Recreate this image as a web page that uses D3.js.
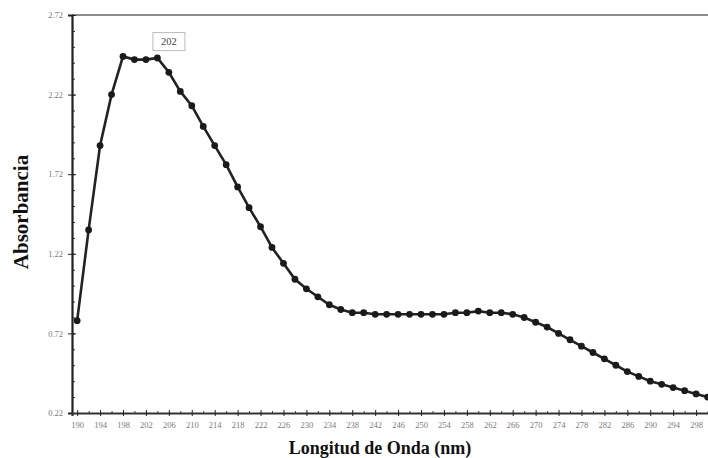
<!DOCTYPE html>
<html>
<head>
<meta charset="utf-8">
<script src="https://cdn.jsdelivr.net/npm/d3@7"></script>
<style>
  body { margin: 0; background: #fff; }
  svg { display: block; }
</style>
</head>
<body>
<div id="chart"></div>
<script>
const wavelength = [190, 192, 194, 196, 198, 200, 202, 204, 206, 208,
    210, 212, 214, 216, 218, 220, 222, 224, 226, 228,
    230, 232, 234, 236, 238, 240, 242, 244, 246, 248,
    250, 252, 254, 256, 258, 260, 262, 264, 266, 268,
    270, 272, 274, 276, 278, 280, 282, 284, 286, 288,
    290, 292, 294, 296, 298, 300];
const absorbance = [0.80, 1.37, 1.90, 2.22, 2.46, 2.44, 2.44, 2.45, 2.36, 2.24,
    2.15, 2.02, 1.90, 1.78, 1.64, 1.51, 1.39, 1.26, 1.16, 1.06,
    1.00, 0.95, 0.90, 0.87, 0.85, 0.85, 0.84, 0.84, 0.84, 0.84,
    0.84, 0.84, 0.84, 0.85, 0.85, 0.86, 0.85, 0.85, 0.84, 0.82,
    0.79, 0.76, 0.72, 0.68, 0.64, 0.60, 0.56, 0.52, 0.48, 0.45,
    0.42, 0.40, 0.38, 0.36, 0.34, 0.32];
const yTicks = [0.22, 0.72, 1.22, 1.72, 2.22, 2.72];
const xTickLabels = [190, 194, 198, 202, 206, 210, 214, 218, 222, 226,
    230, 234, 238, 242, 246, 250, 254, 258, 262, 266,
    270, 274, 278, 282, 286, 290, 294, 298];
const peakLabel = "202";
const peakAt = 202;

const W = 708, H = 458;
const svg = d3.select('#chart').append('svg')
    .attr('width', W)
    .attr('height', H);

const x = d3.scaleLinear().domain([189.1, 301.3]).range([72, 715]);
const y = d3.scaleLinear().domain([0.22, 2.72]).range([413, 15]);
const serif = '"Liberation Serif", "DejaVu Serif", serif';

// top frame
svg.append('line')
    .attr('x1', 72).attr('x2', W)
    .attr('y1', y(2.72)).attr('y2', y(2.72))
    .attr('stroke', '#666').attr('stroke-width', 1.6);

// y axis
const yMinor = d3.range(0.22, 2.7201, 0.1);
const yAxisMinor = d3.axisRight(y).tickValues(yMinor).tickSize(3).tickFormat('');
svg.append('g').attr('transform', 'translate(72,0)').call(yAxisMinor)
    .call(g => g.select('.domain').remove())
    .selectAll('line').attr('stroke', '#333');
const yAxis = d3.axisLeft(y).tickValues(yTicks).tickSize(4).tickPadding(5)
    .tickFormat(d3.format('.2f'));
const gy = svg.append('g').attr('transform', 'translate(72,0)').call(yAxis);
gy.select('.domain').attr('stroke', '#222').attr('stroke-width', 2.2);
gy.selectAll('.tick line').attr('stroke', '#222').attr('x2', 4).attr('x1', -4);
gy.selectAll('.tick text')
    .attr('fill', '#7a7a7a')
    .style('font-family', serif)
    .style('font-size', '8.5px');

// x axis
const xMinor = d3.range(192, 301, 4);
const xAxisMinor = d3.axisTop(x).tickValues(xMinor).tickSize(2).tickFormat('');
svg.append('g').attr('transform', 'translate(0,413)').call(xAxisMinor)
    .call(g => g.select('.domain').remove())
    .selectAll('line').attr('stroke', '#444');
const xAxis = d3.axisBottom(x).tickValues(xTickLabels).tickSize(3).tickPadding(6);
const gx = svg.append('g').attr('transform', 'translate(0,413)').call(xAxis);
gx.select('.domain').attr('stroke', '#333').attr('stroke-width', 2.2);
gx.selectAll('.tick line').attr('stroke', '#222').attr('y1', -3).attr('y2', 3);
gx.selectAll('.tick text')
    .attr('fill', '#7a7a7a')
    .style('font-family', serif)
    .style('font-size', '8.5px');

// line + markers
const pts = wavelength.map((w, i) => ({ w: w, a: absorbance[i] }));
const line = d3.line().x(d => x(d.w)).y(d => y(d.a));
svg.append('path')
    .datum(pts)
    .attr('d', line)
    .attr('fill', 'none')
    .attr('stroke', '#222')
    .attr('stroke-width', 2.6);
svg.selectAll('circle.pt')
    .data(pts)
    .enter().append('circle')
    .attr('class', 'pt')
    .attr('cx', d => x(d.w))
    .attr('cy', d => y(d.a))
    .attr('r', 3.4)
    .attr('fill', '#1a1a1a');

// peak annotation
const pk = pts.find(d => d.w === peakAt);
const bx = x(pk.w) + 7, by = y(pk.a) - 27;
svg.append('rect')
    .attr('x', bx).attr('y', by)
    .attr('width', 32).attr('height', 18)
    .attr('fill', '#fff')
    .attr('stroke', '#bbb')
    .attr('stroke-width', 1);
svg.append('text')
    .attr('x', bx + 16).attr('y', by + 12.5)
    .attr('text-anchor', 'middle')
    .attr('fill', '#444')
    .style('font-family', serif)
    .style('font-size', '10.5px')
    .text(peakLabel);

// axis titles
svg.append('text')
    .attr('transform', 'translate(28,212) rotate(-90)')
    .attr('text-anchor', 'middle')
    .attr('fill', '#111')
    .style('font-family', serif)
    .style('font-weight', 'bold')
    .style('font-size', '21px')
    .text('Absorbancia');
svg.append('text')
    .attr('x', 380).attr('y', 454)
    .attr('text-anchor', 'middle')
    .attr('fill', '#111')
    .style('font-family', serif)
    .style('font-weight', 'bold')
    .style('font-size', '18px')
    .text('Longitud de Onda (nm)');
</script>
</body>
</html>
